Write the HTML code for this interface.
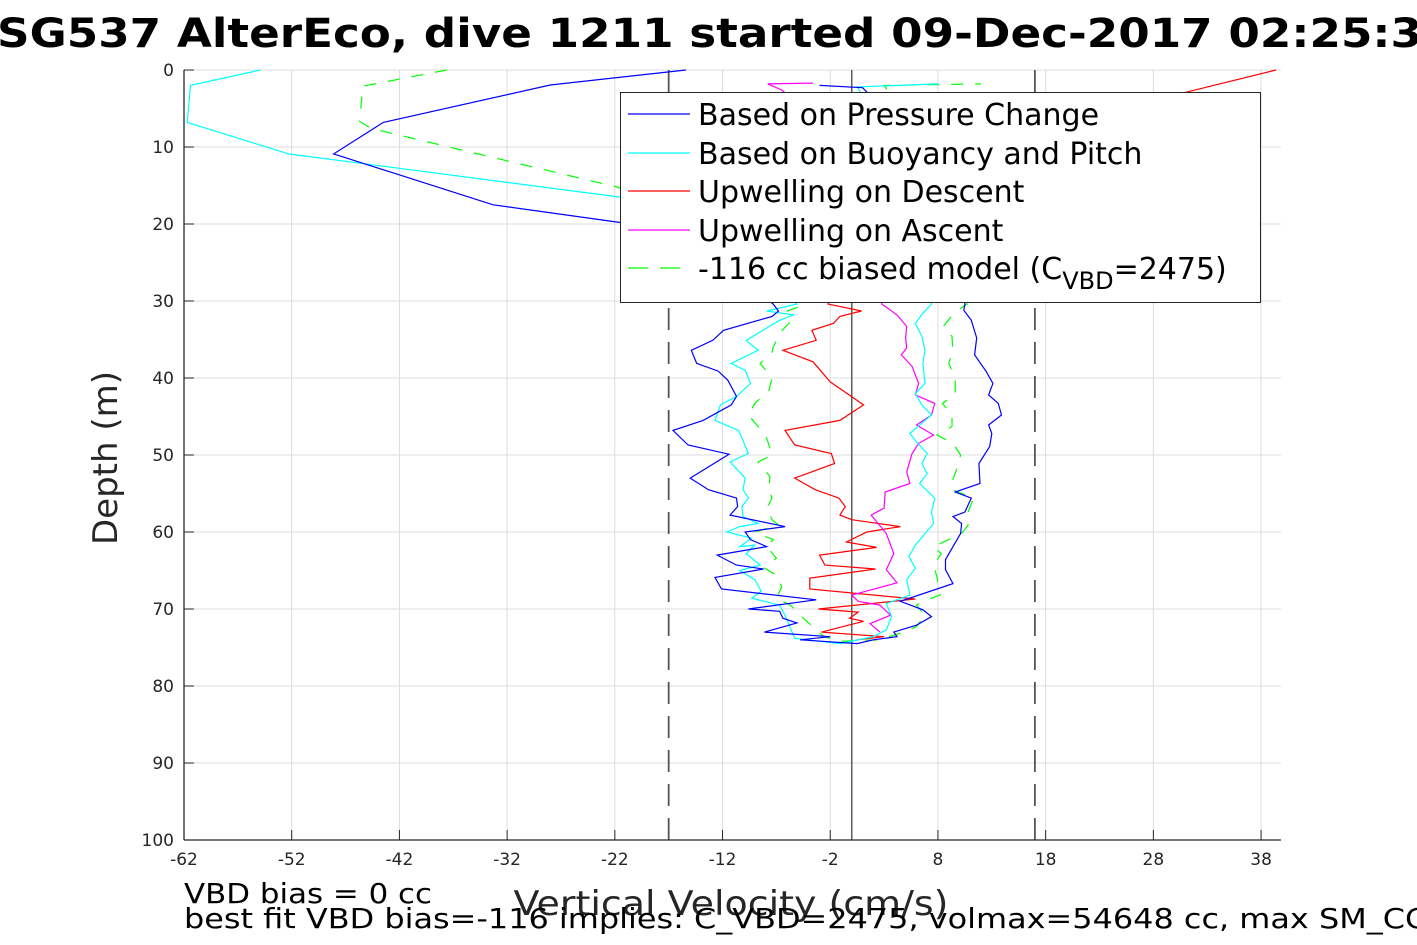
<!DOCTYPE html>
<html><head><meta charset="utf-8"><style>
html,body{margin:0;padding:0;background:#fff;width:1417px;height:945px;overflow:hidden}
svg{display:block;font-family:"DejaVu Sans","Liberation Sans",sans-serif}
</style></head><body>
<svg id="chart" width="1417" height="945" viewBox="0 0 1417 945" xmlns="http://www.w3.org/2000/svg">
<text x="-3" y="47" font-size="40" font-weight="bold" textLength="1425" lengthAdjust="spacingAndGlyphs">SG537 AlterEco, dive 1211 started 09-Dec-2017 02:25:3</text>
<g id="grid"></g>
<g id="marks"></g>
<g id="axes"></g>
<text transform="translate(117,458) rotate(-90)" text-anchor="middle" font-size="34" fill="#262626">Depth (m)</text>
<text x="731" y="915" text-anchor="middle" font-size="34" fill="#262626" textLength="435" lengthAdjust="spacingAndGlyphs">Vertical Velocity (cm/s)</text>
<text x="184" y="903" font-size="28" textLength="248" lengthAdjust="spacingAndGlyphs">VBD bias = 0 cc</text>
<text x="184" y="928" font-size="28" textLength="1270" lengthAdjust="spacingAndGlyphs">best fit VBD bias=-116 implies: C_VBD=2475, volmax=54648 cc, max SM_CC=</text>
<g id="legend">
<rect x="620.5" y="92.5" width="640" height="210" fill="#fff" stroke="#262626" stroke-width="1"/>
</g>
</svg>
<script>
const xTicks=[-62,-52,-42,-32,-22,-12,-2,8,18,28,38];
const yTicks=[0,10,20,30,40,50,60,70,80,90,100];
const refLines=[-17,0,17];
// Based on Pressure Change
const pcDepth=[0,1.95,6.8,10.9,17.5,19.8,25,30.4,31.3,32.0,33.8,35.1,36.4,38.1,39.1,40.3,42.4,43.5,45.5,46.8,48.7,49.9,53.0,54.5,55.6,56.7,57.8,59.3,60.0,61.0,61.9,63.0,64.3,64.8,65.9,67.4,68.8,70.0,70.3,71.2,71.8,73.0,73.6,74.0,74.5,74.0,73.6,73.0,72.1,71.0,70.1,69.0,66.7,64.9,63.6,61.9,60.2,58.9,58.0,57.4,55.6,54.8,53.7,51.1,48.9,47.2,46.1,44.8,43.3,42.2,40.7,39.2,37.0,34.8,32.5,31.2,30.4,20,8,2.3,2.0];
const pcVel=[-15.4,-28.0,-43.5,-48.1,-33.3,-21.5,-12,-7.3,-6.8,-7.4,-11.9,-12.9,-14.9,-14.4,-12.4,-11.5,-10.7,-11.2,-13.8,-16.6,-15.2,-11.4,-15.0,-13.3,-10.7,-10.6,-11.3,-6.2,-9.9,-9.4,-7.9,-12.5,-10.7,-8.2,-12.7,-12.1,-3.3,-9.6,-6.7,-6.4,-5.1,-8.1,-2.0,-4.8,0.5,2.0,4.2,3.9,6.0,7.4,6.6,4.5,9.4,8.7,8.7,9.4,10.1,10.2,9.4,10.5,11.1,9.6,11.9,11.8,12.8,13.0,12.7,13.9,13.6,12.7,13.1,12.5,11.4,11.6,11.1,10.4,10.5,9,5,1,-3];
// Based on Buoyancy and Pitch
const bpDepth=[0,2.0,6.8,10.9,16.5,22,30.4,31.3,31.8,32.5,35.1,36.4,38.1,39.0,40.7,42.4,43.5,45.5,46.8,49.8,50.9,53.0,54.5,55.6,56.7,58.0,58.9,59.3,60.0,60.8,61.9,61.7,62.8,64.3,65.0,66.2,67.7,68.6,69.5,70.8,73.8,74.5,73.6,72.7,71.0,69.3,68.2,66.2,64.7,63.2,61.7,58.9,57.4,55.6,53.7,52.4,51.1,49.8,48.3,47.2,44.8,43.5,42.0,40.7,38.1,36.4,34.6,32.9,31.6,30.4,20,8,2.2,1.8];
const bpVel=[-54.9,-61.4,-61.7,-52.3,-21.5,-12,-5.1,-7.9,-5.4,-6.7,-9.8,-8.7,-11.2,-9.9,-9.4,-10.7,-12.2,-12.7,-10.5,-9.6,-11.3,-9.9,-10.1,-9.6,-10.2,-10.1,-8.7,-10.4,-11.6,-9.3,-10.4,-9.0,-9.8,-8.5,-10.4,-9.0,-8.4,-9.3,-6.7,-6.2,-5.3,-1.1,2.0,3.2,3.7,3.2,5.4,5.1,5.9,5.3,5.9,7.6,7.4,7.7,6.3,7.0,6.5,7.0,6.0,5.4,7.4,6.5,5.9,6.8,6.6,6.8,6.5,5.9,6.6,7.4,6,3,0.5,8];
// Upwelling on Descent
const udDepth=[0,2.9,6,12,20,27,30.4,31.3,32.0,32.9,33.8,35.1,36.4,37.9,40.5,43.5,45.5,46.8,48.7,49.8,51.1,53.0,54.5,55.6,56.7,57.8,58.4,59.3,60.0,61.3,62.0,63.0,64.3,64.8,66.0,67.4,68.7,70.0,70.4,71.2,71.6,73.0,73.6,74.0];
const udVel=[39.4,31.0,15,3,-1,-1.5,-2.2,0.9,-1.1,-1.7,-3.7,-3.3,-6.4,-3.6,-2.0,1.1,-1.1,-6.2,-5.3,-1.9,-1.6,-5.3,-3.4,-1.2,-0.6,-1.1,0.0,4.5,1.4,-0.5,2.3,-3.0,-2.5,2.2,-3.9,-3.9,5.9,-3.1,0.6,-0.2,1.1,-2.8,3.0,0.5];
// Upwelling on Ascent
const uaDepth=[73.0,71.9,70.8,69.5,69.0,68.2,66.6,64.9,62.8,60.2,57.8,56.9,54.8,53.7,52.2,49.8,48.5,47.4,46.1,44.8,43.3,42.2,40.7,38.5,37.0,36.1,34.8,33.3,31.8,30.4,20,8,2.6,1.8,1.7];
const uaVel=[2.6,1.7,3.6,2.6,0.6,0.0,4.2,3.2,3.9,3.2,1.8,3.0,3.1,5.4,5.1,5.6,6.2,7.6,6.0,7.4,7.7,5.9,6.2,5.6,4.6,5.1,5.0,5.1,4.2,2.8,1,-2,-6.5,-7.8,-3.6];
// -116 cc biased model
const mdDepth=[0,2.1,6.7,7.6,15.2,22,30.4,31.3,32.5,34.2,36.0,36.6,38.1,40.0,41.6,43.3,44.8,46.3,47.8,50.0,50.9,52.8,54.5,55.6,56.9,58.4,59.1,60.0,61.0,61.9,63.4,64.7,65.6,67.1,68.6,69.5,71.2,72.3,73.6,74.2,74.0,73.0,72.3,70.8,69.5,68.8,68.2,65.8,64.3,62.8,61.9,60.2,59.1,57.4,55.6,54.5,53.5,52.0,50.0,48.5,47.4,46.3,44.8,43.3,42.2,40.0,38.1,36.6,34.6,33.3,31.4,30.4,20,8,2.0,1.8];
const mdVel=[-37.6,-45.4,-45.7,-44.6,-21.8,-10,-4.2,-6.0,-5.6,-6.7,-7.3,-7.4,-8.5,-7.4,-7.7,-9.0,-9.6,-8.7,-7.9,-7.4,-8.7,-7.6,-7.7,-7.4,-7.9,-7.4,-6.8,-9.0,-7.3,-7.9,-7.0,-8.1,-7.0,-6.5,-7.0,-5.7,-4.5,-3.6,-2.6,-1.1,2.6,4.8,6.0,6.8,6.0,7.0,8.2,7.9,7.6,8.3,7.6,10.2,10.8,10.8,11.3,9.3,9.3,9.7,10.1,9.4,7.9,9.3,9.3,8.4,9.6,9.6,9.0,9.4,9.3,8.5,9.6,10.7,9,6,3,12];
const legendLabels=["Based on Pressure Change","Based on Buoyancy and Pitch","Upwelling on Descent","Upwelling on Ascent","-116 cc biased model (C"];

const NS="http://www.w3.org/2000/svg";
const L=184,R=1281,T=70,B=840,XMIN=-62,XMAX=39.85,YMIN=0,YMAX=100;
const xs=v=>L+(v-XMIN)/(XMAX-XMIN)*(R-L);
const ys=d=>T+(d-YMIN)/(YMAX-YMIN)*(B-T);
function mk(tag,attrs,parent){const e=document.createElementNS(NS,tag);for(const k in attrs)e.setAttribute(k,attrs[k]);parent.appendChild(e);return e;}
const grid=document.getElementById('grid'),marks=document.getElementById('marks'),axes=document.getElementById('axes'),legend=document.getElementById('legend');
xTicks.forEach(t=>{
  const g=mk('line',{x1:xs(t),x2:xs(t),y1:T,y2:B,stroke:'#dcdcdc','stroke-width':1},grid);
  
  
  const tk=mk('line',{x1:xs(t),x2:xs(t),y1:B,y2:B-10,stroke:'#262626','stroke-width':1},axes);
  
  
  const lb=mk('text',{x:xs(t),y:B+25,'text-anchor':'middle','font-size':17,fill:'#262626'},axes);
  lb.textContent=t;
  
  
});
yTicks.forEach(t=>{
  const g=mk('line',{x1:L,x2:R,y1:ys(t),y2:ys(t),stroke:'#dcdcdc','stroke-width':1},grid);
  
  
  const tk=mk('line',{x1:L,x2:L+10,y1:ys(t),y2:ys(t),stroke:'#262626','stroke-width':1},axes);
  
  
  const lb=mk('text',{x:L-10,y:ys(t)+6,'text-anchor':'end','font-size':17,fill:'#262626'},axes);
  lb.textContent=t;
  
  
});
const ax1=mk('line',{x1:L,x2:L,y1:T,y2:B,stroke:'#262626','stroke-width':1.3},axes);


const ax2=mk('line',{x1:L,x2:R,y1:B,y2:B,stroke:'#262626','stroke-width':1.3},axes);


refLines.forEach(v=>{
  const l=mk('line',{x1:xs(v),x2:xs(v),y1:T,y2:B,stroke:v===0?'#444':'#555','stroke-width':v===0?1.3:1.8,'stroke-dasharray':v===0?'':'22,12'},marks);
  
  
});
function series(dep,vel,color,dash,name){
  const pts=dep.map((d,i)=>xs(vel[i]).toFixed(1)+','+ys(d).toFixed(1)).join(' ');
  const p=mk('polyline',{points:pts,fill:'none',stroke:color,'stroke-width':1.2,'stroke-dasharray':dash},marks);
  
  
}
series(udDepth,udVel,'#ff0000','','upwelling-descent-line');
series(uaDepth,uaVel,'#ff00ff','','upwelling-ascent-line');
series(mdDepth,mdVel,'#00ff00','12,12','biased-model-line');
series(bpDepth,bpVel,'#00ffff','','buoyancy-pitch-line');
series(pcDepth,pcVel,'#0000ff','','pressure-change-line');
const lcolors=['#0000ff','#00ffff','#ff0000','#ff00ff','#00ff00'];
const lys=[114,153,191,230,268];
legendLabels.forEach((lab,i)=>{
  const ln=mk('line',{x1:628,x2:690,y1:lys[i],y2:lys[i],stroke:lcolors[i],'stroke-width':1.2,'stroke-dasharray':i===4?'20,12':''},legend);
  
  
  const tx=mk('text',{x:698,y:lys[i]+11,'font-size':30,fill:'#000'},legend);
  
  
  tx.textContent=lab;
  if(i===4){
    const s=mk('tspan',{dy:10,'font-size':24},tx);s.textContent='VBD';
    const s2=mk('tspan',{dy:-10,'font-size':30},tx);s2.textContent='=2475)';
  }
});
</script>
</body></html>
